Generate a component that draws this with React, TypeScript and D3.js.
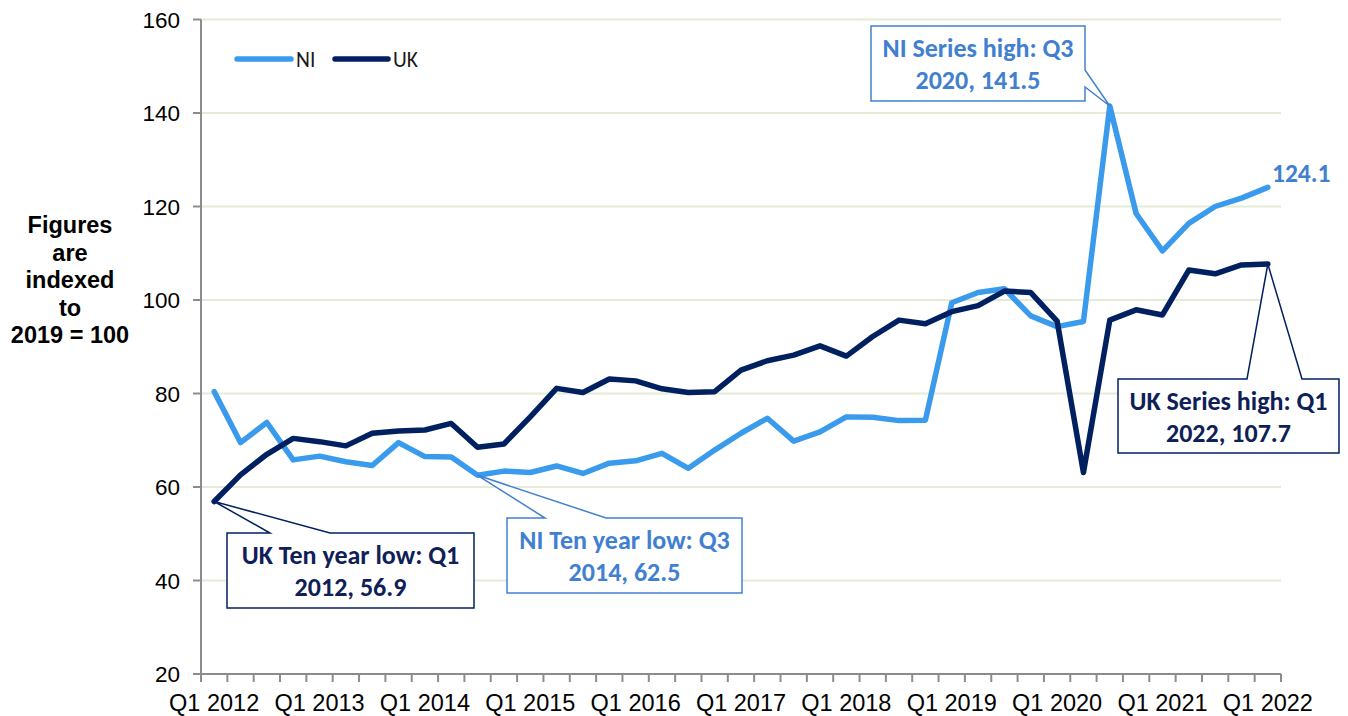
import React from "react";
import * as d3 from "d3";

const categories = [
  "Q1 2012","Q2 2012","Q3 2012","Q4 2012",
  "Q1 2013","Q2 2013","Q3 2013","Q4 2013",
  "Q1 2014","Q2 2014","Q3 2014","Q4 2014",
  "Q1 2015","Q2 2015","Q3 2015","Q4 2015",
  "Q1 2016","Q2 2016","Q3 2016","Q4 2016",
  "Q1 2017","Q2 2017","Q3 2017","Q4 2017",
  "Q1 2018","Q2 2018","Q3 2018","Q4 2018",
  "Q1 2019","Q2 2019","Q3 2019","Q4 2019",
  "Q1 2020","Q2 2020","Q3 2020","Q4 2020",
  "Q1 2021","Q2 2021","Q3 2021","Q4 2021",
  "Q1 2022",
];

const niValues = [
  80.4, 69.5, 73.8, 65.8, 66.6, 65.4, 64.6, 69.5, 66.5, 66.4,
  62.5, 63.4, 63.1, 64.5, 62.9, 65.1, 65.6, 67.2, 64.0, 67.9,
  71.5, 74.7, 69.8, 71.8, 75.0, 74.9, 74.2, 74.3, 99.4, 101.6,
  102.4, 96.6, 94.3, 95.4, 141.5, 118.5, 110.5, 116.4, 120.0, 121.8,
  124.1,
];

const ukValues = [
  56.9, 62.6, 67.0, 70.4, 69.7, 68.8, 71.5, 72.0, 72.2, 73.6,
  68.5, 69.2, 75.0, 81.1, 80.2, 83.1, 82.7, 81.0, 80.2, 80.4,
  85.0, 87.0, 88.2, 90.2, 88.0, 92.2, 95.7, 94.9, 97.5, 98.8,
  101.9, 101.6, 95.5, 63.1, 95.7, 97.9, 96.8, 106.4, 105.6, 107.5,
  107.7,
];

const yTicks = [20, 40, 60, 80, 100, 120, 140, 160];
const xTickLabels = ["Q1 2012","Q1 2013","Q1 2014","Q1 2015","Q1 2016","Q1 2017","Q1 2018","Q1 2019","Q1 2020","Q1 2021","Q1 2022"];
const yTitleLines = ["Figures", "are", "indexed", "to", "2019 = 100"];

const NI_COLOR = "#3a9bec";
const UK_COLOR = "#002060";
const NI_TEXT = "#4180d0";
const UK_TEXT = "#0f2057";
const ANN_FONT = "Carlito, Calibri, Lato, sans-serif";
const AX_FONT = "'Liberation Sans', Arial, sans-serif";

export default function App() {
  const W = 1348, H = 716;
  const x = d3.scaleBand<string>().domain(categories).range([201, 1281]).padding(0);
  const cx = (c: string) => (x(c) as number) + x.bandwidth() / 2;
  const y = d3.scaleLinear().domain([20, 160]).range([674, 19.5]);

  const line = d3
    .line<number>()
    .x((_, i) => cx(categories[i]))
    .y((v) => y(v));

  const tipNIHigh = [cx(categories[34]), y(niValues[34])];
  const tipNILow = [cx(categories[10]), y(niValues[10])];
  const tipUKLow = [cx(categories[0]), y(ukValues[0])];
  const tipUKHigh = [cx(categories[40]), y(ukValues[40])];

  const boundaries = categories.map((c) => x(c) as number).concat([x.range()[1]]);

  const niHighPath = `M871,26 L1085,26 L1085,70 L${tipNIHigh[0]},${tipNIHigh[1]} L1085,87 L1085,101 L871,101 Z`;
  const ukLowPath = `M227,533 L270,533 L${tipUKLow[0]},${tipUKLow[1]} L330,533 L474,533 L474,608 L227,608 Z`;
  const niLowPath = `M507,518 L545,518 L${tipNILow[0]},${tipNILow[1]} L606,518 L742,518 L742,593 L507,593 Z`;
  const ukHighPath = `M1118,379 L1247,379 L${tipUKHigh[0]},${tipUKHigh[1]} L1302,379 L1339,379 L1339,453 L1118,453 Z`;

  const annText = (lines: string[], cxp: number, top: number, color: string) =>
    lines.map((t, i) => (
      <text
        key={i}
        x={cxp}
        y={top + 31 + i * 32}
        textAnchor="middle"
        fontFamily={ANN_FONT}
        fontWeight={700}
        fontSize={26}
        fill={color}
      >
        {t}
      </text>
    ));

  return (
    <svg width={W} height={H} style={{ position: "absolute", left: 0, top: 0, display: "block", background: "#fff" }}>
      {yTicks.filter((t) => t !== 20).map((t) => (
        <line key={t} x1={201} x2={1281} y1={y(t)} y2={y(t)} stroke="#e4ebd6" strokeWidth={2} />
      ))}
      <line x1={201} x2={201} y1={y(160)} y2={y(20)} stroke="#8c8c8c" strokeWidth={2} />
      {yTicks.map((t) => (
        <g key={t}>
          <line x1={193} x2={201} y1={y(t)} y2={y(t)} stroke="#8c8c8c" strokeWidth={2} />
          <text x={180} y={y(t) + 8} textAnchor="end" fontFamily={AX_FONT} fontSize={22.5} fill="#000">
            {t}
          </text>
        </g>
      ))}
      <line x1={201} x2={1281} y1={y(20)} y2={y(20)} stroke="#8c8c8c" strokeWidth={2} />
      {boundaries.map((b, i) => (
        <line key={i} x1={b} x2={b} y1={y(20)} y2={y(20) + 8} stroke="#8c8c8c" strokeWidth={2} />
      ))}
      {xTickLabels.map((lab) => (
        <text key={lab} x={cx(lab)} y={711} textAnchor="middle" fontFamily={AX_FONT} fontSize={23.5} fill="#000">
          {lab}
        </text>
      ))}
      {yTitleLines.map((t, i) => (
        <text key={t} x={70} y={233 + i * 27.5} textAnchor="middle" fontFamily={AX_FONT} fontWeight={700} fontSize={23.5} fill="#000">
          {t}
        </text>
      ))}
      <path d={line(niValues) as string} fill="none" stroke={NI_COLOR} strokeWidth={5.5} strokeLinejoin="round" strokeLinecap="round" />
      <path d={line(ukValues) as string} fill="none" stroke={UK_COLOR} strokeWidth={5.5} strokeLinejoin="round" strokeLinecap="round" />

      <line x1={237} x2={291} y1={59} y2={59} stroke={NI_COLOR} strokeWidth={5.5} strokeLinecap="round" />
      <text x={296} y={66.5} fontFamily={ANN_FONT} fontSize={21.5} fill="#1a1a1a">NI</text>
      <line x1={335} x2={388} y1={59} y2={59} stroke={UK_COLOR} strokeWidth={5.5} strokeLinecap="round" />
      <text x={393} y={66.5} fontFamily={ANN_FONT} fontSize={21.5} fill="#1a1a1a">UK</text>

      <path d={niHighPath} fill="#fff" stroke={NI_TEXT} strokeWidth={1.5} />
      {annText(["NI Series high: Q3", "2020, 141.5"], 978, 26, NI_TEXT)}
      <path d={ukLowPath} fill="#fff" stroke={UK_COLOR} strokeWidth={1.5} />
      {annText(["UK Ten year low: Q1", "2012, 56.9"], 350.5, 533, UK_TEXT)}
      <path d={niLowPath} fill="#fff" stroke={NI_TEXT} strokeWidth={1.5} />
      {annText(["NI Ten year low: Q3", "2014, 62.5"], 624.5, 518, NI_TEXT)}
      <path d={ukHighPath} fill="#fff" stroke={UK_COLOR} strokeWidth={1.5} />
      {annText(["UK Series high: Q1", "2022, 107.7"], 1228.5, 379, UK_TEXT)}

      <text x={1272} y={182} fontFamily={ANN_FONT} fontWeight={700} fontSize={25.5} fill={NI_TEXT}>
        {niValues[niValues.length - 1].toFixed(1)}
      </text>
    </svg>
  );
}
